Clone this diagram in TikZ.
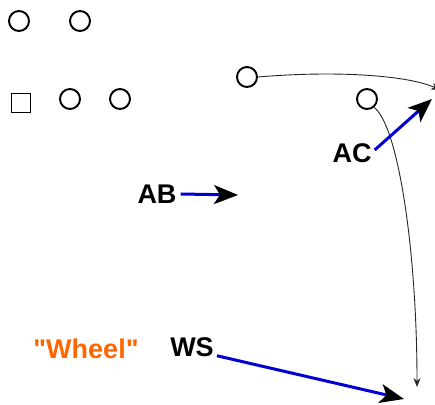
\documentclass[tikz,border=0pt]{standalone}
\usepackage{fontspec}
\setmainfont{Liberation Sans}
\usetikzlibrary{arrows.meta}
\usepackage{xcolor}
\definecolor{wheelorange}{RGB}{255,102,0}
\definecolor{pointblue}{RGB}{0,0,210}

\tikzset{
  every token/.style={circle, draw, line width=1.9pt, minimum size=20pt, inner sep=0pt},
  every slot/.style={rectangle, draw, line width=1.9pt, minimum size=19pt, inner sep=0pt},
  every tag/.style={font=\bfseries\fontsize{27}{27}\selectfont, inner sep=1pt},
  pointer/.style={pointblue, line width=3pt, -{Stealth[black, length=24pt, width=19pt, inset=6pt]}},
  path arc/.style={line width=0.9pt, black!85, -{Stealth[length=9pt, width=7pt]}}
}

\begin{document}
\begin{tikzpicture}[x=1pt, y=-1pt]
\useasboundingbox (0,0) rectangle (435,404);

\foreach \m/\px/\py in {1/19/21, 2/80/21, 3/70/99, 4/120/99, 5/247/77, 6/367/99}
  \node [every token/.try] (token-\m) at (\px,\py) {};

\node [every slot/.try] (slot-1) at (21,103) {};

% kaaret
\coordinate (arc-end-1) at (440,90);
\coordinate (arc-end-2) at (417,387);
\draw [path arc] (token-5.east) .. controls (340,70) and (410,76) .. (arc-end-1);
\draw [path arc] (token-6.-50) .. controls (398,125) and (417,250) .. (arc-end-2);

% tekstit
\node [every tag/.try] (tag-AC) at (352,153) {AC};
\node [every tag/.try] (tag-AB) at (157,194) {AB};
\node [every tag/.try] (tag-WS) at (192,347) {WS};
\node [every tag/.try, wheelorange] (tag-wheel) at (86,349) {\textquotedbl Wheel\textquotedbl};

\coordinate (tip-AC) at (432,99);
\coordinate (tip-AB) at (238,195);
\coordinate (tip-WS) at (404,399);
\draw [pointer] (tag-AC.east) ++(2,-3) -- (tip-AC);
\draw [pointer] (tag-AB.east) ++(3,0) -- (tip-AB);
\draw [pointer] (tag-WS.south east) ++(2,-2) -- (tip-WS);

\end{tikzpicture}
\end{document}
